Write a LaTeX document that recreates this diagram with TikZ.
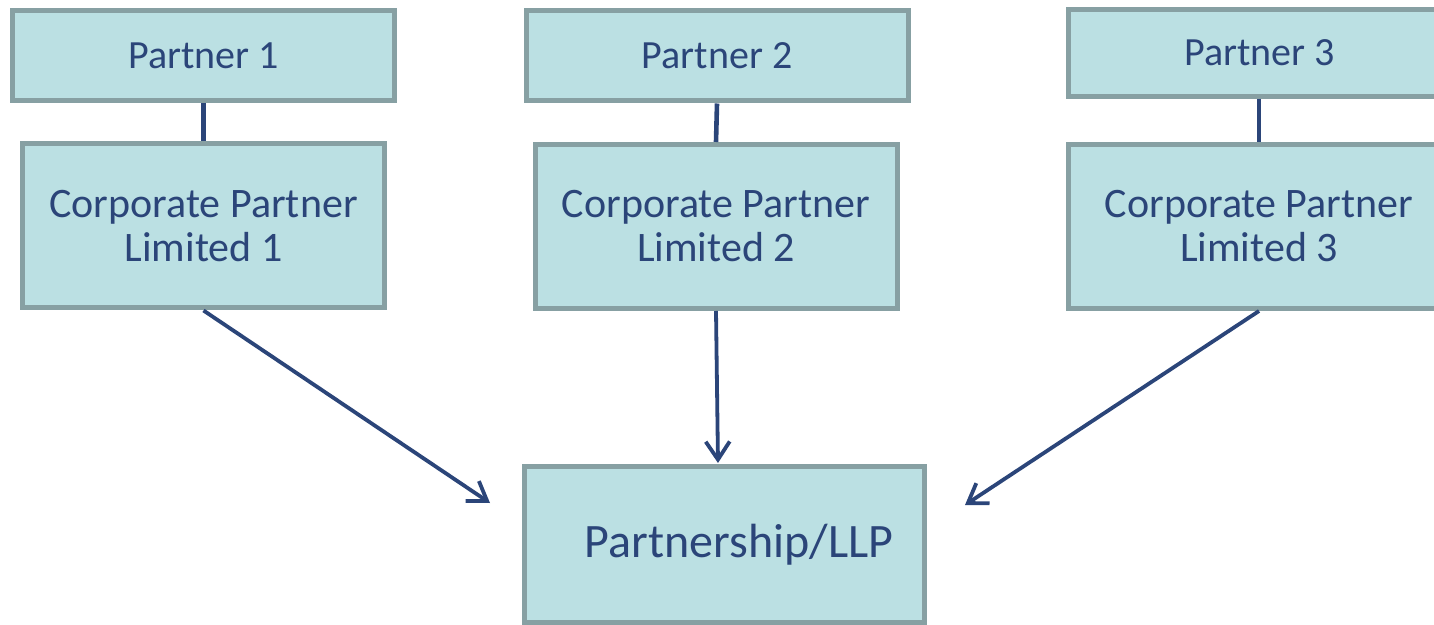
\documentclass[tikz,border=0pt]{standalone}
\usepackage{fontspec}
\setmainfont{Carlito}
\usetikzlibrary{arrows.meta}

\definecolor{boxfill}{HTML}{BBE0E3}
\definecolor{boxline}{HTML}{87A0A3}
\definecolor{navy}{HTML}{2B4579}

\tikzset{
  partnerbox/.style={draw=boxline,fill=boxfill,line width=2.5pt,text=navy,
    minimum width=191pt,minimum height=45pt,inner sep=0pt,
    font=\fontsize{20}{22}\selectfont},
  corpbox/.style={partnerbox,minimum width=181pt,minimum height=82pt,align=center,
    font=\fontsize{21}{22}\selectfont},
  link/.style={navy,line width=2.3pt},
  feed/.style={navy,line width=1.9pt,-{Straight Barb[length=9pt,width=12pt,line width=1.9pt]}}
}

\begin{document}
\begin{tikzpicture}[x=0.5pt,y=-0.5pt]
\clip (0,0) rectangle (1434,625); %page

% partners
\node[partnerbox] (p1) at (203.5,55.5) {Partner 1};
\node[partnerbox] (p2) at (717,56) {Partner 2};
\node[partnerbox,minimum height=43.5pt] (p3) at (1259.5,53) {Partner 3};

% corporate partners
\node[corpbox] (c1) at (203.5,226) {\raisebox{-1pt}{\parbox{170pt}{\centering Corporate Partner\\Limited 1}}};
\node[corpbox] (c2) at (716,226.5) {\raisebox{-1pt}{\parbox{170pt}{\centering Corporate Partner\\Limited 2}}};
\node[corpbox,minimum width=190.5pt] (c3) at (1259,226.5) {\raisebox{-1pt}{\parbox{170pt}{\centering Corporate Partner\\Limited 3}}};

% partnership
\node[partnerbox,minimum width=200pt,minimum height=78pt,
  label={[navy,xshift=7.5pt,font=\fontsize{24}{26}\selectfont]center:Partnership/LLP}] (llp) at (724,544.5) {};

\draw[link] (p1.south) -- (c1.north);
\draw[link] (p2.south) -- (c2.north);
\draw[link] (p3.south -| c3.north) -- (c3.north);

\coordinate (in1) at (490,503);
\coordinate (in2) at (718,463);
\coordinate (in3) at (965,505);
\draw[feed] (c1.south) -- (in1);
\draw[feed] (c2.south) -- (in2);
\draw[feed] (c3.south) -- (in3);

\end{tikzpicture}
\end{document}
